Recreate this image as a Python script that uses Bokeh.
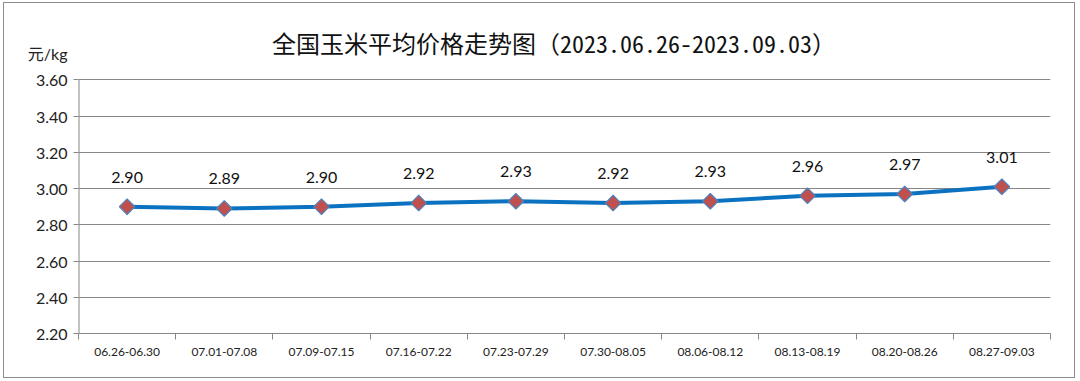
from bokeh.plotting import figure
from bokeh.models import FixedTicker, Range1d, ColumnDataSource, CustomJSTickFormatter
from bokeh.embed import file_html
from bokeh.resources import INLINE
from bokeh.core.properties import value

categories = ["06.26-06.30", "07.01-07.08", "07.09-07.15", "07.16-07.22", "07.23-07.29",
              "07.30-08.05", "08.06-08.12", "08.13-08.19", "08.20-08.26", "08.27-09.03"]
prices = [2.90, 2.89, 2.90, 2.92, 2.93, 2.92, 2.93, 2.96, 2.97, 3.01]
y_ticks = [2.20, 2.40, 2.60, 2.80, 3.00, 3.20, 3.40, 3.60]
title_text = "全国玉米平均价格走势图（2023.06.26-2023.09.03）"
unit_text = "元/kg"

y_min, y_max = 2.20, 3.60
unit_pos = 3.745
title_pos = (4.892, 3.806)

xs = [i + 0.5 for i in range(len(categories))]
src = ColumnDataSource(dict(x=xs, y=prices, lab=["%.2f" % v for v in prices]))

p = figure(width=1072, height=376, output_backend="svg", toolbar_location=None,
           x_range=Range1d(0, len(categories)), y_range=Range1d(y_min, 3.90),
           min_border_left=74, min_border_right=26, min_border_top=22, min_border_bottom=46)
p.outline_line_color = None
p.title.visible = False
p.styles = {"border": "1px solid #8c8c8c", "margin": "2px 0px 0px 3px"}

grey = "#868686"
p.xgrid.visible = False
p.ygrid.grid_line_color = grey
p.ygrid.grid_line_width = 1
p.ygrid.ticker = FixedTicker(ticks=y_ticks)

p.yaxis.ticker = FixedTicker(ticks=y_ticks + [unit_pos], minor_ticks=y_ticks)
p.yaxis.formatter = CustomJSTickFormatter(
    args=dict(u=unit_pos, ut=unit_text),
    code="return Math.abs(tick - u) < 1e-6 ? ut : tick.toFixed(2);")
p.yaxis.axis_line_color = None
p.yaxis.major_tick_line_color = None
p.yaxis.major_tick_out = 5
p.yaxis.minor_tick_line_color = grey
p.yaxis.minor_tick_out = 5
p.yaxis.minor_tick_in = 0
p.yaxis.major_label_text_font = "Lato, Noto Sans CJK SC"
p.yaxis.major_label_text_font_size = "16px"
p.yaxis.major_label_text_color = "#222222"
p.yaxis.major_label_standoff = 6

# visible part of the y axis line (2.20 - 3.60)
p.segment(x0=[0], y0=[y_min], x1=[0], y1=[y_max], line_color=grey, line_width=2)

p.xaxis.ticker = FixedTicker(ticks=xs, minor_ticks=list(range(len(categories) + 1)))
p.xaxis.major_label_overrides = {x: c for x, c in zip(xs, categories)}
p.xaxis.axis_line_color = grey
p.xaxis.major_tick_line_color = None
p.xaxis.minor_tick_line_color = grey
p.xaxis.minor_tick_out = 6
p.xaxis.minor_tick_in = 0
p.xaxis.major_label_text_font = "Lato"
p.xaxis.major_label_text_font_size = "12px"
p.xaxis.major_label_text_color = "#222222"
p.xaxis.major_label_standoff = 8

p.line("x", "y", source=src, line_color="#0B72C1", line_width=4)
p.scatter("x", "y", source=src, marker="square", angle=0.7854, size=11, fill_color="#C0504D",
          line_color="#4F81BD", line_width=1.2)
p.text("x", "y", text="lab", source=src, text_align="center", text_baseline="bottom",
       y_offset=-24, text_font=value("Lato"), text_font_size="16px", text_color="#111111")

p.text(x=[title_pos[0]], y=[title_pos[1]], text=[title_text], text_align="center",
       text_baseline="middle", text_font=value("Noto Sans Mono CJK SC, Noto Sans CJK SC"),
       text_font_size="24px", text_color="#111111")

open("out.html", "w").write(file_html(p, INLINE))
